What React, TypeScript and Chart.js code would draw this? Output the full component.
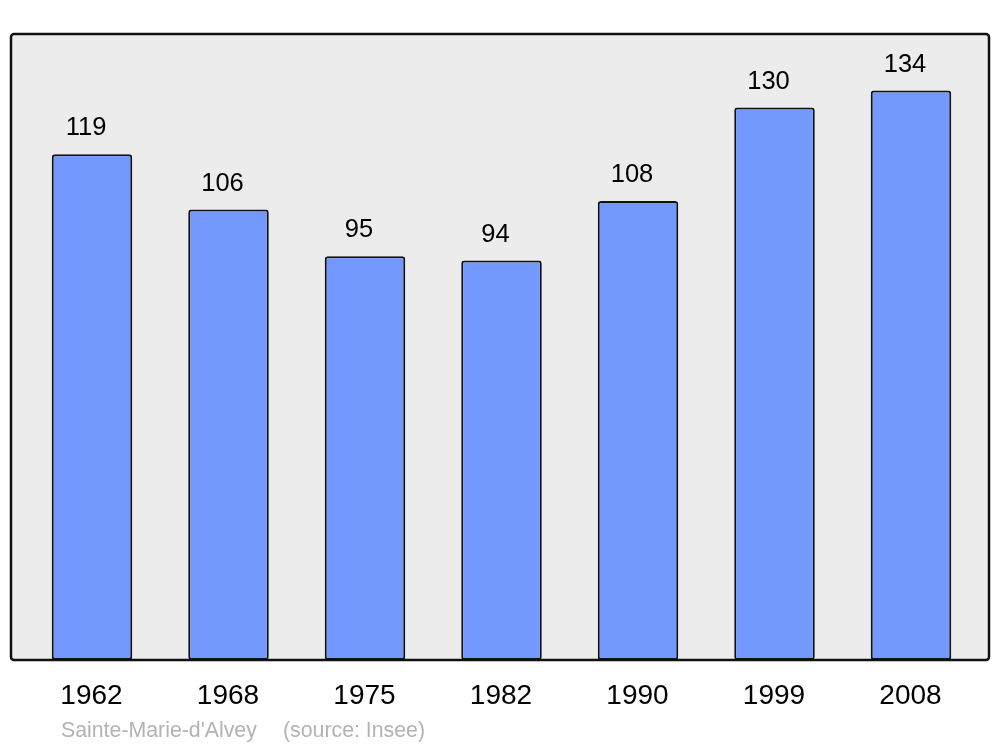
import React, { useEffect, useRef } from "react";
import { Chart, registerables } from "chart.js";

Chart.register(...registerables);

const years = ["1962", "1968", "1975", "1982", "1990", "1999", "2008"];
const population = [119, 106, 95, 94, 108, 130, 134];
const footerName = "Sainte-Marie-d'Alvey";
const footerSource = "(source: Insee)";

export default function App() {
  const ref = useRef<HTMLCanvasElement | null>(null);

  useEffect(() => {
    document.body.style.margin = "0";
    const canvas = ref.current!;
    const frame = (ca: any) => ({ l: ca.left - 12.75, r: ca.right + 9.75, t: ca.top, b: ca.bottom });
    const decor = {
      id: "decor",
      beforeDatasetsDraw(chart: any) {
        const { ctx } = chart;
        const { l, r, t, b } = frame(chart.chartArea);
        ctx.save();
        ctx.beginPath();
        ctx.roundRect(l, t, r - l, b - t, 3);
        ctx.fillStyle = "#ececec";
        ctx.fill();
        ctx.restore();
      },
      afterDatasetsDraw(chart: any) {
        const { ctx } = chart;
        const { l, r, t, b } = frame(chart.chartArea);
        ctx.save();
        ctx.beginPath();
        ctx.roundRect(l, t, r - l, b - t, 3);
        ctx.lineWidth = 2.5;
        ctx.strokeStyle = "#111";
        ctx.stroke();
        const meta = chart.getDatasetMeta(0);
        ctx.fillStyle = "#000";
        ctx.textAlign = "center";
        ctx.textBaseline = "alphabetic";
        ctx.font = "25.5px 'Liberation Sans', Arial, sans-serif";
        meta.data.forEach((bar: any, i: number) => {
          ctx.fillText(String(population[i]), bar.x - 6, bar.y - 19);
        });
        ctx.font = "28px 'Liberation Sans', Arial, sans-serif";
        const xs = chart.scales.x;
        years.forEach((y, i) => {
          ctx.fillText(y, xs.getPixelForTick(i) - 0.5, b + 44);
        });
        ctx.textAlign = "left";
        ctx.fillStyle = "#b3b3b3";
        ctx.font = "21.3px 'Liberation Sans', Arial, sans-serif";
        ctx.fillText(footerName, l + 50, b + 77);
        ctx.fillText(footerSource, l + 272, b + 77);
        ctx.restore();
      },
    };
    const chart = new Chart(canvas, {
      type: "bar",
      data: {
        labels: years,
        datasets: [
          {
            data: population,
            backgroundColor: "#7399ff",
            borderColor: "#111",
            borderWidth: 2,
            borderRadius: 3,
            borderSkipped: false,
            barPercentage: 0.59,
            categoryPercentage: 1,
          },
        ],
      },
      options: {
        animation: false,
        responsive: false,
        layout: { padding: { left: 23.75, right: 20.75, top: 34, bottom: 87 } },
        plugins: { legend: { display: false }, tooltip: { enabled: false } },
        scales: {
          x: { display: false, offset: true },
          y: { display: false, min: 0, max: 147.3 },
        },
      },
      plugins: [decor],
    });
    return () => chart.destroy();
  }, []);

  return (
    <div style={{ position: "absolute", left: 0, top: 0, width: 1000, height: 747, background: "#fff" }}>
      <canvas ref={ref} width={1000} height={747} style={{ width: 1000, height: 747 }} />
    </div>
  );
}
